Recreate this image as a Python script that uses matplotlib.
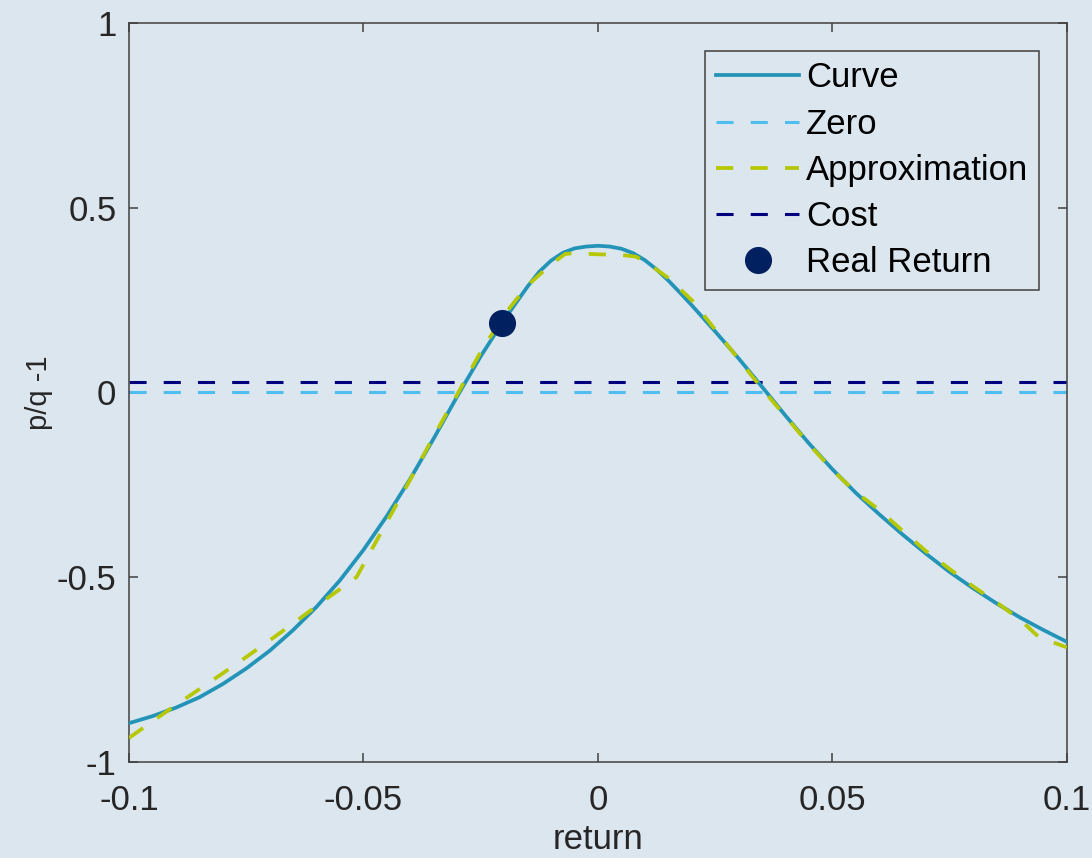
import numpy as np
import matplotlib
matplotlib.use("Agg")
import matplotlib.pyplot as plt

plt.rcParams['font.family'] = ['Liberation Sans', 'DejaVu Sans']
plt.rcParams['axes.unicode_minus'] = False

# curve p/q - 1 against return
ret_curve = [-0.100, -0.095, -0.090, -0.085, -0.080, -0.075, -0.070, -0.065, -0.060, -0.055,
             -0.050, -0.045, -0.040, -0.035, -0.030, -0.025, -0.020, -0.015, -0.0125, -0.010,
             -0.0075, -0.005, -0.0025, 0.000, 0.0025, 0.005, 0.0075, 0.010, 0.0125, 0.015,
             0.0175, 0.020, 0.025, 0.030, 0.035, 0.040, 0.045, 0.050, 0.055, 0.060,
             0.065, 0.070, 0.075, 0.080, 0.085, 0.090, 0.095, 0.100]
val_curve = [-0.895, -0.876, -0.853, -0.825, -0.789, -0.747, -0.699, -0.643, -0.580, -0.508,
             -0.426, -0.334, -0.233, -0.124, -0.010, 0.098, 0.197, 0.287, 0.327, 0.357,
             0.378, 0.390, 0.395, 0.397, 0.395, 0.389, 0.377, 0.358, 0.333, 0.303,
             0.270, 0.236, 0.165, 0.092, 0.015, -0.063, -0.138, -0.208, -0.272, -0.330,
             -0.385, -0.437, -0.486, -0.530, -0.571, -0.609, -0.643, -0.675]

# piecewise approximation
ret_approx = [-0.100, -0.095, -0.090, -0.085, -0.080, -0.075, -0.070, -0.065, -0.060, -0.055,
              -0.0515, -0.045, -0.040, -0.035, -0.030, -0.025, -0.020, -0.015, -0.010,
              -0.007, -0.005, 0.000, 0.005, 0.008, 0.010, 0.015, 0.020, 0.025, 0.030,
              0.035, 0.040, 0.045, 0.050, 0.055, 0.060, 0.065, 0.070, 0.075, 0.080,
              0.085, 0.090, 0.094, 0.100]
val_approx = [-0.935, -0.890, -0.846, -0.803, -0.760, -0.716, -0.671, -0.625, -0.578, -0.532,
              -0.500, -0.350, -0.235, -0.118, -0.005, 0.110, 0.210, 0.290, 0.347,
              0.375, 0.377, 0.374, 0.372, 0.368, 0.355, 0.310, 0.250, 0.170, 0.090,
              0.010, -0.065, -0.140, -0.210, -0.270, -0.318, -0.375, -0.430, -0.478, -0.525,
              -0.568, -0.615, -0.662, -0.690]

zero_level = 0.0
cost_level = 0.028
real_ret = -0.0205
real_val = 0.188

bg = '#dce6ef'
fig = plt.figure(figsize=(10.92, 8.58), dpi=100, facecolor=bg)
ax = fig.add_axes([0.1181, 0.1119, 0.859, 0.8613], facecolor=bg)

ax.plot(ret_curve, val_curve, color='#2394b8', lw=2.7, label='Curve', zorder=3)
ax.axhline(zero_level, color='#4dbeee', lw=2.2, dashes=(5.6, 5.6), label='Zero', zorder=2)
ax.plot(ret_approx, val_approx, color='#b5c800', lw=2.7, dashes=(4.6, 4.6), label='Approximation', zorder=4)
ax.axhline(cost_level, color='#00007f', lw=2.2, dashes=(5.6, 5.6), label='Cost', zorder=2)
ax.plot([real_ret], [real_val], 'o', color='#002060', markersize=18.5, label='Real Return', zorder=5)

ax.set_xlim(-0.1, 0.1)
ax.set_ylim(-1, 1)
ax.set_xticks([-0.1, -0.05, 0, 0.05, 0.1])
ax.set_xticklabels(['-0.1', '-0.05', '0', '0.05', '0.1'])
ax.set_yticks([-1, -0.5, 0, 0.5, 1])
ax.set_yticklabels(['-1', '-0.5', '0', '0.5', '1'])
ax.tick_params(direction='in', length=6.5, width=1.1, color='#404040', labelcolor='#262626',
               labelsize=25, top=True, right=True)
ax.tick_params(axis='x', pad=16)
ax.tick_params(axis='y', pad=9)
for s in ax.spines.values():
    s.set_color('#404040')
    s.set_linewidth(1.1)

ax.set_xlabel('return', fontsize=25, color='#262626', labelpad=4)
ax.set_ylabel('p/q -1', fontsize=21, color='#262626', labelpad=3)

leg = ax.legend(loc='upper right', bbox_to_anchor=(0.970, 0.962), borderaxespad=0,
                fontsize=25, handlelength=2.4, handletextpad=0.2, labelspacing=0.38,
                borderpad=0.3, fancybox=False, framealpha=1, facecolor=bg, edgecolor='#404040')
leg.get_frame().set_linewidth(1.1)

plt.savefig('out.png', dpi=100, facecolor=bg)
